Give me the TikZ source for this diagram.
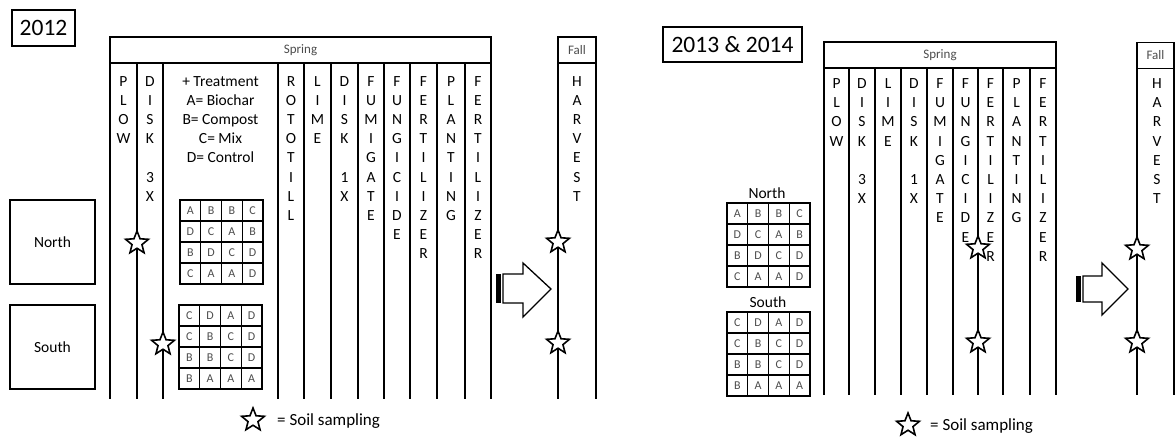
\documentclass[tikz,border=0pt]{standalone}
\usepackage{fontspec}
\setmainfont{Carlito}
\usetikzlibrary{shapes.geometric}
\tikzset{
    yearbox/.style={draw, line width=1.6pt, inner sep=0pt, font=\fontsize{23.5}{26}\selectfont},
    plotbox/.style={draw, line width=1.6pt, inner sep=0pt, minimum width=85pt, minimum height=84pt, font=\fontsize{15.5}{18}\selectfont},
    season/.style={draw, line width=1.6pt, inner sep=0pt, minimum height=26pt, font=\fontsize{13}{15}\selectfont, text=black!70},
    divider/.style={draw, line width=1.8pt},
    letter/.style={anchor=base, inner sep=0pt, font=\fontsize{15.5}{19}\selectfont},
    cell/.style={draw, line width=1.3pt, inner sep=0pt, minimum width=20.75pt, minimum height=21pt, font=\fontsize{12}{14}\selectfont, text=black!70},
    gridlabel/.style={inner sep=0pt, font=\fontsize{15.5}{18}\selectfont},
    sample/.style={star, star points=5, star point ratio=2.3, draw, fill=white, line width=1.6pt, minimum size=24pt, inner sep=0pt},
    legend/.style={anchor=west, inner sep=0pt, font=\fontsize{17}{20}\selectfont},
    bigarrow/.style={draw, line width=1.3pt, fill=white}
}

% letters stacked down a column: name, x, first baseline, list
\newcommand{\vword}[4]{%
    \foreach \ch [count=\i from 0] in {#4}
        \node[letter] (#1-\i) at (#2, {#3+19.2*\i}) {\ch};
}

% 4x4 treatment grid: name, left x, top y, rows
\newcommand{\plotgrid}[4]{%
    \foreach \rw [count=\ri] in {#4}
        \foreach \ch [count=\ci] in \rw
            \node[cell] (#1-\ri-\ci) at ({#2+20.75*(\ci-0.5)}, {#3+21*(\ri-0.5)}) {\ch};
}

\begin{document}
\begin{tikzpicture}[x=1pt, y=-1pt]
\useasboundingbox (0,0) rectangle (1175,437);

% 2012
\begin{scope}
    \node[yearbox, minimum width=63pt, minimum height=36pt] (yearA) at (43.5,28) {2012};
    \node[plotbox] (northA) at (52.5,242) {North};
    \node[plotbox] (southA) at (52.5,347) {South};

    \node[season, minimum width=381pt] (springA) at (300.5,50) {Spring};
    \node[season, minimum width=38pt] (fallA) at (577,50) {Fall};
    \foreach \x in {110,137,163,278,304,331,358,384,410,437,465,491,558,596}
        \draw[divider] (\x,63) -- (\x,399);

    % operations
    \vword{plowA}{123.5}{86}{P,L,O,W}
    \vword{diskA}{150}{86}{D,I,S,K,{},3,X}
    \vword{treatA}{220.5}{86}{+ Treatment,A= Biochar,B= Compost,C= Mix,D= Control}
    \vword{rotoA}{291}{86}{R,O,T,O,T,I,L,L}
    \vword{limeA}{317.5}{86}{L,I,M,E}
    \vword{disk1A}{344.5}{86}{D,I,S,K,{},1,X}
    \vword{fumA}{371}{86}{F,U,M,I,G,A,T,E}
    \vword{fungA}{397}{86}{F,U,N,G,I,C,I,D,E}
    \vword{fertA}{423.5}{86}{F,E,R,T,I,L,I,Z,E,R}
    \vword{plantA}{451}{86}{P,L,A,N,T,I,N,G}
    \vword{fert2A}{478}{86}{F,E,R,T,I,L,I,Z,E,R}
    \vword{harvA}{577}{86}{H,A,R,V,E,S,T}

    % plots
    \plotgrid{gnA}{180}{200}{{A,B,B,C},{D,C,A,B},{B,D,C,D},{C,A,A,D}}
    \plotgrid{gsA}{179}{305}{{C,D,A,D},{C,B,C,D},{B,B,C,D},{B,A,A,A}}

    % soil sampling
    \node[sample] (s1A) at (137,243) {};
    \node[sample] (s2A) at (163,344) {};
    \node[sample] (s3A) at (558,242) {};
    \node[sample] (s4A) at (558,343) {};

    \fill (496,274) rectangle (501,303);
    \draw[bigarrow] (503,274) -- (523,274) -- (523,263) -- (551,289) -- (523,317) -- (523,303) -- (503,303) -- cycle;

    \node[sample] (keyA) at (253,420) {};
    \node[legend] (keytextA) at (277,421) {= Soil sampling};
\end{scope}

% 2013 & 2014
\begin{scope}
    \node[yearbox, minimum width=139pt, minimum height=35pt] (yearB) at (732.5,44.5) {2013 \& 2014};

    \node[season, minimum width=232pt] (springB) at (940,55) {Spring};
    \node[season, minimum width=37pt] (fallB) at (1155.5,55.5) {Fall};
    \foreach \x in {824,849,875,901,927,953,978,1003,1030,1056,1137,1174}
        \draw[divider] (\x,68) -- (\x,395);

    % operations
    \vword{plowB}{836.5}{88.5}{P,L,O,W}
    \vword{diskB}{862}{88.5}{D,I,S,K,{},3,X}
    \vword{limeB}{888}{88.5}{L,I,M,E}
    \vword{disk1B}{914}{88.5}{D,I,S,K,{},1,X}
    \vword{fumB}{940}{88.5}{F,U,M,I,G,A,T,E}
    \vword{fungB}{965.5}{88.5}{F,U,N,G,I,C,I,D,E}
    \vword{fertB}{990.5}{88.5}{F,E,R,T,I,L,I,Z,E,R}
    \vword{plantB}{1016.5}{88.5}{P,L,A,N,T,I,N,G}
    \vword{fert2B}{1043}{88.5}{F,E,R,T,I,L,I,Z,E,R}
    \vword{harvB}{1157}{88.5}{H,A,R,V,E,S,T}

    % plots
    \node[gridlabel] (northB) at (767,193) {North};
    \plotgrid{gnB}{727}{203}{{A,B,B,C},{D,C,A,B},{B,D,C,D},{C,A,A,D}}
    \node[gridlabel] (southB) at (768,302) {South};
    \plotgrid{gsB}{727}{312}{{C,D,A,D},{C,B,C,D},{B,B,C,D},{B,A,A,A}}

    % soil sampling
    \node[sample] (s1B) at (978,248) {};
    \node[sample] (s2B) at (978,342) {};
    \node[sample] (s3B) at (1137,249) {};
    \node[sample] (s4B) at (1137,342) {};

    \fill (1076,276) rectangle (1081,302);
    \draw[bigarrow] (1083,276) -- (1102,276) -- (1102,263) -- (1128,289) -- (1102,315) -- (1102,302) -- (1083,302) -- cycle;

    \node[sample] (keyB) at (908,425) {};
    \node[legend] (keytextB) at (930,426) {= Soil sampling};
\end{scope}
\end{tikzpicture}
\end{document}
